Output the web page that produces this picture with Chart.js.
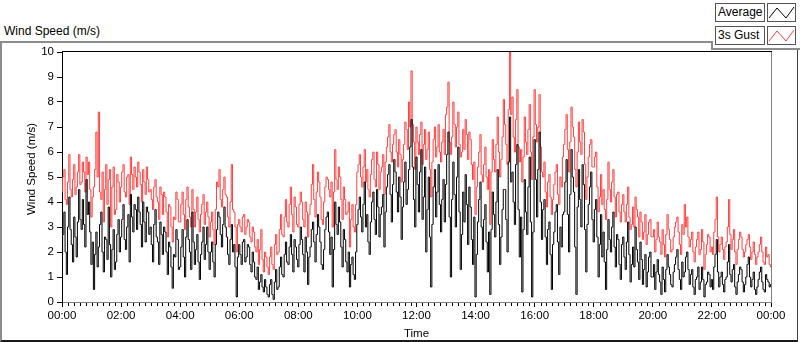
<!DOCTYPE html>
<html>
<head>
<meta charset="utf-8">
<script src="https://cdn.jsdelivr.net/npm/chart.js@4.4.0/dist/chart.umd.min.js"></script>
<style>
  body { margin: 0; background: #fff; font-family: "Liberation Sans", Arial, sans-serif; }
  #wrap { position: relative; width: 800px; height: 342px; overflow: hidden; }
  #frame { position: absolute; left: 0; top: 41px; width: 795px; height: 297px;
    border-left: 2px solid #8c8c8c; border-top: 2px solid #8c8c8c;
    border-right: 1px solid #404040; border-bottom: 2px solid #1a1a1a; }
  #notch { position: absolute; left: 711px; top: 41px; width: 89px; height: 7px; background: #fff;
    border-left: 2px solid #8c8c8c; border-bottom: 2px solid #8c8c8c; }
  #title { position: absolute; left: 4px; top: 24px; font-size: 12px; color: #000; }
  .lbl { position: absolute; left: 715px; width: 46px; height: 17px; padding-left: 2px;
    border: 1px solid #555; background: #fff; font-size: 12px; line-height: 17px; color: #000; }
  .icon { position: absolute; left: 767px; width: 27px; height: 17px; border: 1px solid #555; background: #fff; }
  canvas { position: absolute; left: 0; top: 0; }
</style>
</head>
<body>
<div id="wrap">
  <div id="frame"></div>
  <div id="notch"></div>
  <div id="title">Wind Speed (m/s)</div>
  <div class="lbl" style="top:3px">Average</div>
  <div class="icon" style="top:3px"><svg width="27" height="17"><polyline points="1,14 9,4 18,14 26,3" fill="none" stroke="#000" stroke-width="1"/></svg></div>
  <div class="lbl" style="top:26px">3s Gust</div>
  <div class="icon" style="top:26px"><svg width="27" height="17"><polyline points="1,14 9,4 18,14 26,3" fill="none" stroke="#ff4040" stroke-width="1"/></svg></div>
  <canvas id="chart" width="800" height="342"></canvas>
</div>
<script>
// one reading every 2.5 minutes, 00:00 to 24:00 (one row per hour)
const stepMinutes = 2.5;

const avgSpeed = [
  1.9, 2.7, 3.6, 2.0, 1.1, 3.0, 4.2, 2.9, 2.3, 1.6, 3.4, 2.6, 1.8, 3.2, 4.5, 3.3, 2.9, 4.1, 3.1, 2.2, 4.9, 3.5, 4.0, 2.8,
  1.5, 2.4, 0.5, 1.9, 2.8, 1.4, 2.2, 3.1, 3.6, 2.0, 1.2, 2.6, 2.5, 1.7, 3.8, 2.3, 1.0, 2.1, 2.9, 1.3, 1.6, 2.7, 3.3, 2.0,
  2.6, 3.3, 3.9, 2.5, 2.1, 3.0, 3.5, 1.6, 4.3, 3.4, 2.8, 3.9, 3.7, 2.9, 4.2, 3.6, 3.1, 2.2, 4.0, 3.2, 2.4, 3.8, 3.6, 2.7,
  3.0, 2.3, 1.6, 3.1, 3.7, 2.6, 2.4, 1.5, 3.2, 2.7, 1.9, 3.0, 2.8, 2.0, 1.1, 2.4, 2.2, 1.4, 0.55, 1.9, 1.8, 2.9, 2.5, 1.3,
  1.4, 2.2, 2.9, 1.8, 1.0, 2.6, 3.3, 2.5, 2.0, 1.3, 3.6, 2.4, 1.5, 2.1, 2.7, 1.6, 0.9, 1.9, 2.4, 3.0, 1.7, 2.3, 3.0, 2.0,
  1.3, 2.0, 2.4, 1.6, 1.0, 2.3, 2.9, 3.6, 3.4, 2.7, 2.2, 3.1, 3.8, 3.0, 2.6, 1.9, 1.5, 2.5, 3.1, 2.0, 2.3, 1.4, 0.2, 1.8,
  2.3, 1.9, 1.5, 2.4, 2.5, 1.6, 1.8, 2.3, 2.2, 1.5, 1.2, 2.0, 1.6, 1.0, 0.9, 1.4, 0.5, 0.8, 1.1, 0.6, 0.4, 0.9, 0.6, 0.3,
  0.2, 0.7, 0.9, 0.3, 0.1, 0.8, 1.3, 0.5, 0.6, 1.4, 1.8, 1.1, 1.0, 1.9, 2.4, 1.6, 1.5, 2.2, 2.7, 1.9, 1.2, 2.5, 2.2, 1.7,
  1.4, 2.3, 3.0, 2.5, 1.9, 1.2, 2.6, 2.0, 0.7, 1.8, 2.2, 2.9, 3.2, 2.4, 1.6, 2.7, 3.5, 3.0, 2.4, 1.5, 1.3, 2.1, 2.9, 3.4,
  3.6, 2.8, 1.9, 2.6, 0.6, 2.1, 4.0, 3.1, 2.7, 3.8, 3.2, 2.2, 1.4, 2.9, 2.5, 1.6, 1.2, 2.0, 0.6, 1.5, 1.8, 1.1, 0.9, 2.0,
  3.1, 3.7, 4.2, 3.4, 2.8, 3.9, 4.8, 3.0, 3.5, 2.4, 1.9, 3.2, 4.0, 4.4, 3.3, 2.7, 4.5, 3.8, 2.6, 3.5, 3.8, 4.3, 2.2, 3.6,
  4.6, 5.1, 5.5, 4.3, 3.2, 4.7, 5.7, 5.2, 4.4, 3.6, 5.0, 4.2, 2.5, 3.8, 4.8, 5.6, 3.9, 4.5, 5.3, 6.2, 7.3, 5.4, 4.1, 3.0,
  5.8, 4.7, 3.6, 5.2, 6.1, 3.3, 4.2, 5.4, 2.0, 3.7, 5.0, 2.6, 0.6, 3.1, 4.6, 5.3, 3.4, 4.4, 5.5, 3.9, 2.8, 4.1, 4.9, 3.2,
  4.7, 5.9, 6.8, 3.4, 1.0, 4.1, 5.6, 4.3, 3.0, 5.0, 6.2, 3.6, 1.3, 2.7, 4.4, 3.2, 5.1, 3.9, 2.3, 4.6, 3.8, 2.5, 1.5, 3.4,
  0.2, 1.9, 3.2, 4.1, 4.8, 3.0, 2.1, 3.3, 3.9, 2.4, 1.2, 2.8, 0.3, 2.9, 4.4, 3.5, 2.6, 4.0, 5.3, 3.1, 1.5, 2.6, 3.7, 4.5,
  4.5, 3.3, 2.0, 5.6, 7.4, 4.8, 5.2, 4.0, 3.1, 5.5, 6.3, 3.7, 1.8, 3.4, 0.4, 2.9, 4.9, 3.6, 2.7, 4.6, 5.8, 3.2, 0.2, 2.8,
  6.5, 4.9, 3.4, 5.3, 6.8, 4.0, 2.5, 3.7, 4.1, 2.6, 1.5, 2.9, 3.2, 1.9, 0.5, 2.3, 2.8, 3.6, 3.9, 2.4, 1.1, 3.0, 2.2, 3.5,
  3.6, 4.8, 5.7, 3.5, 2.0, 4.3, 6.1, 5.0, 4.4, 2.2, 0.3, 3.8, 5.3, 4.1, 3.0, 5.5, 4.7, 2.9, 1.2, 3.1, 3.9, 4.6, 5.2, 3.3,
  2.4, 3.7, 4.1, 2.6, 1.0, 2.3, 3.5, 1.8, 2.8, 1.6, 0.5, 2.1, 3.3, 2.5, 2.0, 3.0, 3.6, 2.2, 1.4, 2.7, 2.5, 1.5, 0.9, 2.3,
  2.6, 1.8, 1.3, 2.4, 3.2, 1.9, 0.8, 1.5, 2.2, 1.4, 3.0, 2.1, 1.6, 0.9, 2.4, 1.7, 0.7, 1.3, 1.9, 0.6, 1.2, 1.8, 2.0, 1.0,
  1.0, 1.5, 0.5, 1.2, 1.7, 1.1, 0.8, 0.3, 1.4, 0.9, 0.4, 1.3, 1.9, 1.4, 1.1, 0.7, 0.6, 1.2, 1.5, 1.8, 2.1, 1.3, 0.9, 0.5,
  1.6, 1.0, 1.2, 1.8, 2.0, 1.3, 0.7, 1.1, 1.3, 0.6, 0.3, 0.9, 1.0, 1.4, 0.5, 0.8, 1.4, 0.9, 0.2, 0.7, 0.8, 1.2, 1.1, 0.6,
  0.9, 0.5, 1.4, 1.9, 2.5, 1.2, 0.6, 1.0, 1.2, 0.7, 0.4, 0.9, 1.0, 1.6, 2.3, 1.1, 0.8, 1.3, 1.5, 0.6, 0.3, 0.8, 1.1, 1.4,
  1.3, 0.8, 0.4, 0.7, 1.0, 1.5, 1.8, 1.0, 0.6, 0.9, 1.2, 0.5, 0.3, 0.6, 0.9, 1.2, 1.4, 0.8, 0.5, 0.4, 1.1, 0.9, 0.8, 0.6,
  0.7
];

const gustSpeed = [
  4.4, 5.0, 5.3, 4.1, 3.9, 4.8, 5.9, 4.5, 4.2, 4.9, 5.5, 4.3, 4.6, 5.2, 5.9, 4.7, 4.8, 5.6, 5.2, 4.4, 5.8, 5.1, 5.6, 4.5,
  3.4, 4.2, 4.6, 5.3, 6.8, 5.0, 7.6, 4.4, 4.1, 5.2, 3.2, 4.5, 5.5, 3.9, 4.9, 5.3, 3.0, 4.6, 5.4, 3.5, 3.7, 5.1, 4.8, 4.0,
  4.6, 5.2, 5.5, 4.4, 4.2, 5.0, 5.1, 3.9, 5.8, 5.1, 4.5, 5.4, 5.0, 4.6, 5.6, 5.2, 4.7, 4.0, 5.3, 4.8, 4.3, 5.4, 4.9, 4.4,
  4.5, 4.1, 3.7, 4.6, 4.9, 4.2, 4.0, 3.3, 4.6, 4.3, 3.5, 4.4, 4.2, 3.6, 2.6, 3.9, 3.8, 3.0, 2.4, 3.4, 3.3, 4.4, 4.1, 3.2,
  3.2, 3.9, 4.4, 3.5, 2.9, 4.1, 4.6, 3.8, 3.4, 3.0, 4.5, 3.7, 3.0, 3.6, 4.2, 3.3, 2.8, 3.5, 3.9, 4.3, 3.1, 3.6, 4.0, 3.4,
  2.6, 3.2, 3.6, 2.9, 2.3, 3.7, 4.8, 4.6, 5.3, 4.1, 3.8, 4.5, 5.0, 4.3, 4.2, 3.4, 3.0, 4.0, 5.5, 3.7, 3.6, 3.0, 2.0, 3.1,
  3.3, 3.0, 2.8, 3.4, 3.5, 2.7, 3.0, 3.3, 3.2, 2.6, 2.4, 3.0, 2.8, 2.2, 2.0, 2.5, 1.5, 2.1, 2.9, 1.7, 1.2, 2.0, 1.8, 1.4,
  1.1, 1.8, 2.2, 1.5, 1.3, 2.3, 2.7, 1.9, 2.0, 2.9, 3.5, 2.7, 2.6, 3.4, 4.1, 3.2, 3.0, 3.9, 4.6, 3.5, 2.8, 4.2, 3.8, 3.1,
  3.0, 3.9, 4.4, 4.0, 3.3, 3.0, 4.0, 3.6, 2.6, 3.5, 3.9, 4.7, 5.5, 4.1, 3.4, 4.4, 5.2, 4.8, 4.2, 3.3, 3.1, 4.0, 4.6, 5.0,
  4.9, 4.5, 4.2, 4.8, 3.0, 4.4, 6.1, 4.9, 4.5, 5.4, 5.0, 4.1, 3.3, 4.6, 4.1, 3.5, 3.6, 4.0, 2.2, 3.3, 3.9, 3.0, 2.8, 3.9,
  5.2, 5.5, 5.9, 5.0, 4.6, 5.4, 6.1, 4.8, 5.3, 4.5, 4.2, 5.1, 5.7, 6.0, 4.9, 4.6, 6.0, 5.5, 4.5, 5.2, 5.4, 5.9, 4.3, 5.6,
  6.2, 6.6, 7.1, 6.0, 5.6, 6.3, 6.7, 6.9, 6.0, 5.4, 6.5, 5.9, 4.8, 5.7, 6.3, 7.2, 6.9, 6.1, 8.0, 7.0, 9.25, 7.1, 6.4, 5.3,
  7.0, 6.4, 5.9, 6.7, 7.2, 5.5, 6.3, 6.9, 5.7, 6.1, 6.8, 5.3, 4.2, 5.6, 6.5, 7.0, 5.8, 6.2, 7.1, 6.0, 5.6, 6.4, 6.9, 5.9,
  7.5, 7.8, 8.8, 6.4, 5.9, 6.6, 8.0, 7.1, 6.2, 7.0, 7.6, 6.3, 5.8, 6.0, 6.9, 6.1, 7.3, 6.7, 5.7, 6.8, 6.5, 5.5, 4.9, 5.6,
  3.5, 4.6, 5.4, 6.0, 6.7, 5.1, 4.8, 5.5, 6.2, 5.0, 4.5, 5.3, 3.1, 5.2, 6.5, 5.7, 5.2, 6.3, 7.4, 6.0, 5.0, 5.7, 6.6, 8.1,
  7.1, 6.3, 5.5, 7.7, 10.0, 7.5, 8.2, 6.6, 6.0, 7.3, 8.5, 6.2, 5.6, 6.1, 4.8, 5.8, 7.4, 6.4, 5.9, 6.9, 7.9, 6.0, 4.9, 6.6,
  8.5, 7.1, 6.4, 7.0, 8.3, 6.2, 5.2, 5.0, 5.6, 4.4, 3.8, 4.8, 5.1, 4.2, 3.5, 4.1, 4.7, 5.2, 5.5, 4.3, 3.9, 5.0, 4.6, 5.8,
  6.3, 6.9, 7.5, 6.1, 5.2, 6.4, 7.8, 7.0, 6.6, 5.3, 4.6, 6.0, 7.2, 6.4, 5.9, 7.3, 6.8, 5.5, 4.1, 5.0, 5.8, 6.3, 6.5, 5.4,
  5.4, 5.8, 6.0, 4.6, 3.6, 4.2, 5.1, 3.9, 4.5, 3.7, 3.3, 4.1, 5.6, 4.5, 4.0, 4.8, 5.3, 4.2, 3.4, 4.3, 4.4, 3.6, 3.2, 3.9,
  4.3, 3.6, 3.2, 3.9, 4.6, 3.4, 2.9, 3.1, 3.8, 3.0, 4.2, 3.7, 3.4, 2.6, 3.6, 3.2, 2.5, 2.8, 3.5, 2.3, 2.7, 3.2, 3.3, 2.6,
  2.6, 2.9, 2.0, 2.5, 3.2, 2.6, 2.4, 1.9, 2.9, 2.3, 1.8, 2.7, 3.5, 2.9, 2.5, 2.0, 2.1, 2.6, 3.0, 3.2, 3.4, 2.8, 2.3, 1.9,
  3.1, 2.7, 3.9, 3.0, 3.4, 2.6, 2.2, 2.5, 2.8, 2.0, 1.6, 2.2, 2.5, 2.8, 1.9, 2.1, 2.9, 2.4, 1.3, 1.9, 2.3, 2.7, 2.6, 2.0,
  2.2, 1.9, 2.8, 3.3, 4.2, 2.6, 2.0, 2.3, 2.6, 2.1, 1.7, 2.2, 2.4, 3.0, 4.1, 2.7, 2.1, 2.5, 2.9, 2.0, 1.5, 2.1, 2.5, 2.8,
  2.6, 2.1, 1.8, 2.0, 2.3, 2.5, 2.7, 2.2, 1.7, 2.0, 2.4, 1.9, 1.5, 1.8, 2.0, 2.3, 2.6, 2.0, 1.6, 1.5, 2.2, 1.8, 1.9, 1.5,
  1.4
];

const textFont = { family: '"Liberation Sans", Arial, sans-serif', size: 11.5 };

// minutes -> "HH:MM", 1440 wraps back to 00:00
function timeLabel(v) {
  const m = v % 1440;
  const h = Math.floor(m / 60);
  return String(h).padStart(2, '0') + ':' + String(m % 60).padStart(2, '0');
}

// small ticks every 12 min + top/right edges of the plot
const plotExtras = {
  id: 'plotExtras',
  afterDraw(chart) {
    const { ctx, chartArea, scales: { x } } = chart;
    ctx.save();
    ctx.lineWidth = 1;
    ctx.strokeStyle = '#000';
    for (let v = 12; v < 1440; v += 12) {
      if (v % 120 === 0) continue;
      const px = Math.round(x.getPixelForValue(v)) + 0.5;
      ctx.beginPath();
      ctx.moveTo(px, chartArea.bottom + 1);
      ctx.lineTo(px, chartArea.bottom + 4);
      ctx.stroke();
    }
    ctx.beginPath();
    ctx.moveTo(chartArea.left, Math.round(chartArea.top) - 0.5);
    ctx.lineTo(chartArea.right + 1, Math.round(chartArea.top) - 0.5);
    ctx.stroke();
    ctx.strokeStyle = '#808080';
    ctx.beginPath();
    ctx.moveTo(Math.round(chartArea.right) + 0.5, chartArea.top);
    ctx.lineTo(Math.round(chartArea.right) + 0.5, chartArea.bottom);
    ctx.stroke();
    ctx.restore();
  }
};

const avgPoints = avgSpeed.map((v, i) => ({ x: i * stepMinutes, y: v }));
const gustPoints = gustSpeed.map((v, i) => ({ x: i * stepMinutes, y: v }));

new Chart(document.getElementById('chart'), {
  type: 'line',
  data: {
    datasets: [
      { label: 'Average', data: avgPoints, borderColor: '#000', borderWidth: 1, stepped: 'middle' },
      { label: '3s Gust', data: gustPoints, borderColor: '#ff4040', borderWidth: 1, stepped: 'middle' }
    ]
  },
  options: {
    responsive: false,
    animation: false,
    layout: { padding: { top: 52, right: 29, left: 0, bottom: 0 } },
    elements: { point: { radius: 0 }, line: { tension: 0 } },
    plugins: { legend: { display: false }, tooltip: { enabled: false } },
    scales: {
      x: {
        type: 'linear', min: 0, max: 1440,
        ticks: { stepSize: 120, autoSkip: false, maxRotation: 0, padding: 2, color: '#000', font: textFont, callback: timeLabel },
        grid: { drawOnChartArea: false, tickLength: 5, color: '#000' },
        border: { color: '#808080' },
        title: { display: true, text: 'Time', color: '#000', font: textFont, padding: { top: 0, bottom: 1 } },
        afterFit: s => { s.height = 40; }
      },
      y: {
        min: 0, max: 10,
        ticks: { stepSize: 1, padding: 3, color: '#000', font: textFont },
        grid: { drawOnChartArea: false, tickLength: 5, color: '#000' },
        border: { color: '#000' },
        title: { display: true, text: '     Wind Speed (m/s)', color: '#000', font: textFont, padding: { top: 25, bottom: 0 } },
        afterFit: s => { s.width = 62; }
      }
    }
  },
  plugins: [plotExtras]
});
</script>
</body>
</html>
